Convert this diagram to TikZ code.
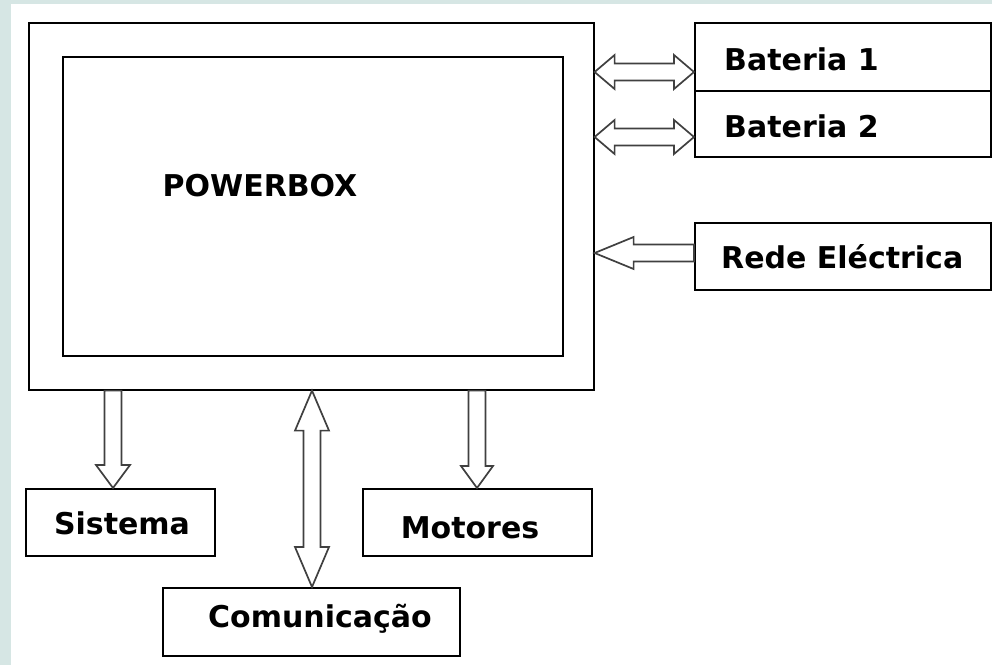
\documentclass[tikz,border=0pt]{standalone}
\usepackage{fontspec}
\setmainfont{DejaVu Sans}
\usetikzlibrary{calc}
\definecolor{edgebg}{HTML}{D6E6E4}
\definecolor{arrowc}{HTML}{404040}
\tikzset{
  blk/.style={draw=black, line width=1.6pt, fill=white, inner sep=0pt},
  lbl/.style={font=\bfseries\fontsize{30}{33}\selectfont, inner sep=0pt},
  hollow/.style={draw=arrowc, line width=1.7pt, fill=white, line join=miter},
}
\begin{document}
\begin{tikzpicture}[x=1pt,y=-1pt]
\useasboundingbox (0,0) rectangle (992,665);
\fill[edgebg] (0,0) rectangle (992,665);
\fill[white] (11,4) rectangle (992,665);

% boxes
\node[blk, minimum width=565, minimum height=367, anchor=north west] (outer) at (28,22) {};
\node[blk, minimum width=500, minimum height=299, anchor=north west] (inner) at (62,56) {};
\node[lbl] (pb) at (260,186) {POWERBOX};

\node[blk, minimum width=296, minimum height=68, anchor=north west] (b1) at (694,22) {};
\node[lbl, anchor=west] (b1t) at (724,59) {Bateria 1};
\node[blk, minimum width=296, minimum height=66, anchor=north west] (b2) at (694,90) {};
\node[lbl, anchor=west] (b2t) at (724,126) {Bateria 2};
\node[blk, minimum width=296, minimum height=67, anchor=north west] (rede) at (694,222) {};
\node[lbl, anchor=west] (redet) at (721,257) {Rede Eléctrica};

\node[blk, minimum width=189, minimum height=67, anchor=north west] (sis) at (25,488) {};
\node[lbl] (sist) at (122,523) {Sistema};
\node[blk, minimum width=229, minimum height=67, anchor=north west] (mot) at (362,488) {};
\node[lbl] (mott) at (470,528) {Motores};
\node[blk, minimum width=297, minimum height=68, anchor=north west] (com) at (162,587) {};
\node[lbl] (comt) at (320,619) {Comunicação};

% connector end points
\coordinate (p1) at ($(outer.north east)+(0,50)$);
\coordinate (q1) at ($(b1.north west)+(0,50)$);
\coordinate (p2) at ($(outer.north east)+(0,115)$);
\coordinate (q2) at ($(b2.north west)+(0,47)$);
\coordinate (pr) at ($(outer.north east)+(0,231)$);
\coordinate (qr) at ($(rede.north west)+(0,31)$);
\coordinate (ts) at (sis.north -| 113,0);
\coordinate (fs) at (outer.south -| 113,0);
\coordinate (tm) at (mot.north -| 477,0);
\coordinate (fm) at (outer.south -| 477,0);
\coordinate (tc) at (com.north -| 312,0);
\coordinate (fc) at (outer.south -| 312,0);

% double horizontal arrows (batteries)
\foreach \p/\q in {p1/q1, p2/q2}{
  \draw[hollow] (\p) -- ++(20,-17) -- ++(0,8.5) -- ($(\q)+(-20,-8.5)$) -- ++(0,-8.5)
    -- (\q) -- ++(-20,17) -- ++(0,-8.5) -- ($(\p)+(20,8.5)$) -- ++(0,8.5) -- cycle;
}
% mains -> powerbox
\draw[hollow] (pr) -- ++(39,-16) -- ++(0,7.5) -- ($(qr)+(0,-8.5)$) -- ($(qr)+(0,8.5)$)
  -- ($(pr)+(39,8.5)$) -- ++(0,7.5) -- cycle;
% powerbox -> sistema
\draw[hollow] (ts) -- ++(-17,-23) -- ++(8.5,0) -- ($(fs)+(-8.5,0)$) -- ($(fs)+(8.5,0)$)
  -- ($(ts)+(8.5,-23)$) -- ++(8.5,0) -- cycle;
% powerbox -> motores
\draw[hollow] (tm) -- ++(-16,-22) -- ++(7.5,0) -- ($(fm)+(-8.5,0)$) -- ($(fm)+(8.5,0)$)
  -- ($(tm)+(8.5,-22)$) -- ++(7.5,0) -- cycle;
% powerbox <-> comunicacao
\draw[hollow] (fc) -- ++(17,40) -- ++(-8.5,0) -- ($(tc)+(8.5,-40)$) -- ++(8.5,0)
  -- (tc) -- ++(-17,-40) -- ++(8.5,0) -- ($(fc)+(-8.5,40)$) -- ++(-8.5,0) -- cycle;
\end{tikzpicture}
\end{document}
